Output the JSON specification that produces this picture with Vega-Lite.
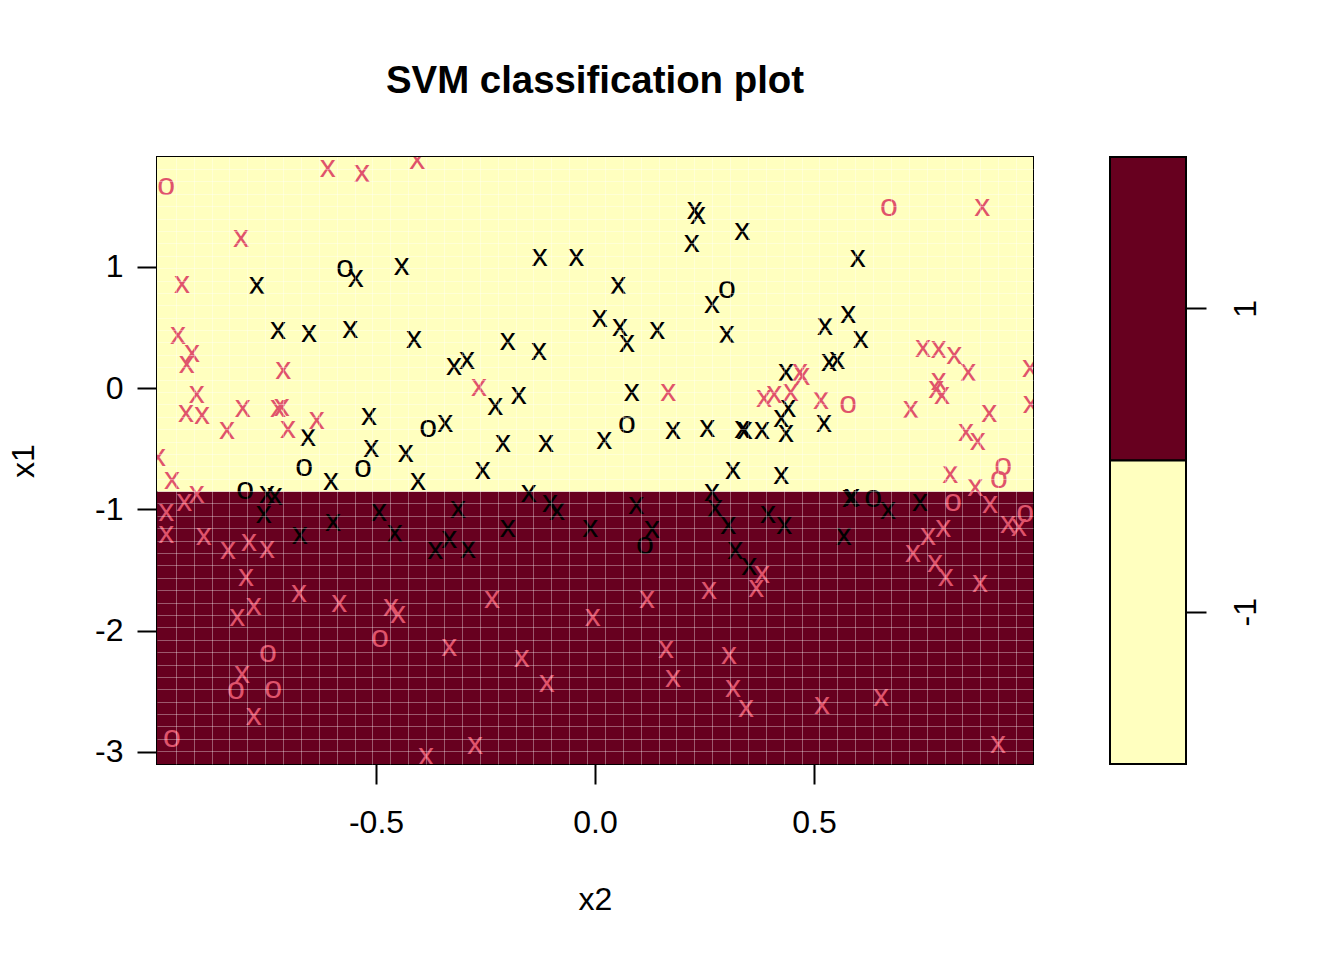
{
  "$schema": "https://vega.github.io/schema/vega-lite/v6.json",
  "background": "white",
  "padding": {"left": 6, "top": 60, "right": 40, "bottom": 20},
  "config": {
    "font": "Liberation Sans",
    "view": {"stroke": "black", "strokeWidth": 2},
    "axis": {
      "labelFont": "Liberation Sans", "labelFontSize": 32, "labelColor": "black",
      "tickColor": "black", "tickWidth": 2, "tickSize": 20, "domain": false, "grid": false,
      "titleFont": "Liberation Sans", "titleFontSize": 32, "titleFontWeight": "normal", "titleColor": "black"
    }
  },
  "datasets": {
    "regions": [
      {"cls": "1", "x2_lo": -1.0, "x2_hi": 1.0, "x1_lo": -3.099, "x1_hi": -0.851},
      {"cls": "-1", "x2_lo": -1.0, "x2_hi": 1.0, "x1_lo": -0.851, "x1_hi": 1.907}
    ],
    "points": [
      {"x2": -0.571, "x1": 1.000, "cls": "-1", "sym": "o"},
      {"x2": -0.546, "x1": 0.918, "cls": "-1", "sym": "x"},
      {"x2": -0.441, "x1": 1.016, "cls": "-1", "sym": "x"},
      {"x2": -0.772, "x1": 0.860, "cls": "-1", "sym": "x"},
      {"x2": -0.724, "x1": 0.489, "cls": "-1", "sym": "x"},
      {"x2": -0.653, "x1": 0.464, "cls": "-1", "sym": "x"},
      {"x2": -0.559, "x1": 0.497, "cls": "-1", "sym": "x"},
      {"x2": -0.413, "x1": 0.414, "cls": "-1", "sym": "x"},
      {"x2": -0.516, "x1": -0.221, "cls": "-1", "sym": "x"},
      {"x2": -0.655, "x1": -0.394, "cls": "-1", "sym": "x"},
      {"x2": -0.381, "x1": -0.320, "cls": "-1", "sym": "o"},
      {"x2": -0.342, "x1": -0.278, "cls": "-1", "sym": "x"},
      {"x2": -0.511, "x1": -0.485, "cls": "-1", "sym": "x"},
      {"x2": -0.432, "x1": -0.526, "cls": "-1", "sym": "x"},
      {"x2": 0.228, "x1": 1.478, "cls": "-1", "sym": "x"},
      {"x2": 0.235, "x1": 1.437, "cls": "-1", "sym": "x"},
      {"x2": 0.221, "x1": 1.206, "cls": "-1", "sym": "x"},
      {"x2": 0.336, "x1": 1.305, "cls": "-1", "sym": "x"},
      {"x2": -0.126, "x1": 1.091, "cls": "-1", "sym": "x"},
      {"x2": -0.043, "x1": 1.091, "cls": "-1", "sym": "x"},
      {"x2": 0.053, "x1": 0.860, "cls": "-1", "sym": "x"},
      {"x2": 0.301, "x1": 0.827, "cls": "-1", "sym": "o"},
      {"x2": 0.267, "x1": 0.703, "cls": "-1", "sym": "x"},
      {"x2": 0.011, "x1": 0.588, "cls": "-1", "sym": "x"},
      {"x2": 0.057, "x1": 0.513, "cls": "-1", "sym": "x"},
      {"x2": 0.073, "x1": 0.381, "cls": "-1", "sym": "x"},
      {"x2": 0.142, "x1": 0.489, "cls": "-1", "sym": "x"},
      {"x2": 0.301, "x1": 0.456, "cls": "-1", "sym": "x"},
      {"x2": -0.199, "x1": 0.398, "cls": "-1", "sym": "x"},
      {"x2": -0.128, "x1": 0.315, "cls": "-1", "sym": "x"},
      {"x2": -0.322, "x1": 0.192, "cls": "-1", "sym": "x"},
      {"x2": -0.292, "x1": 0.241, "cls": "-1", "sym": "x"},
      {"x2": 0.084, "x1": -0.023, "cls": "-1", "sym": "x"},
      {"x2": -0.228, "x1": -0.138, "cls": "-1", "sym": "x"},
      {"x2": -0.174, "x1": -0.047, "cls": "-1", "sym": "x"},
      {"x2": 0.073, "x1": -0.287, "cls": "-1", "sym": "o"},
      {"x2": 0.178, "x1": -0.336, "cls": "-1", "sym": "x"},
      {"x2": 0.256, "x1": -0.320, "cls": "-1", "sym": "x"},
      {"x2": 0.336, "x1": -0.328, "cls": "-1", "sym": "x"},
      {"x2": -0.210, "x1": -0.443, "cls": "-1", "sym": "x"},
      {"x2": -0.112, "x1": -0.443, "cls": "-1", "sym": "x"},
      {"x2": 0.021, "x1": -0.419, "cls": "-1", "sym": "x"},
      {"x2": 0.600, "x1": 1.082, "cls": "-1", "sym": "x"},
      {"x2": 0.578, "x1": 0.621, "cls": "-1", "sym": "x"},
      {"x2": 0.525, "x1": 0.522, "cls": "-1", "sym": "x"},
      {"x2": 0.607, "x1": 0.414, "cls": "-1", "sym": "x"},
      {"x2": 0.534, "x1": 0.225, "cls": "-1", "sym": "x"},
      {"x2": 0.553, "x1": 0.241, "cls": "-1", "sym": "x"},
      {"x2": 0.436, "x1": 0.142, "cls": "-1", "sym": "x"},
      {"x2": 0.441, "x1": -0.155, "cls": "-1", "sym": "x"},
      {"x2": 0.425, "x1": -0.237, "cls": "-1", "sym": "x"},
      {"x2": 0.436, "x1": -0.361, "cls": "-1", "sym": "x"},
      {"x2": 0.342, "x1": -0.336, "cls": "-1", "sym": "x"},
      {"x2": 0.381, "x1": -0.336, "cls": "-1", "sym": "x"},
      {"x2": 0.523, "x1": -0.278, "cls": "-1", "sym": "x"},
      {"x2": -0.664, "x1": -0.641, "cls": "-1", "sym": "o"},
      {"x2": -0.530, "x1": -0.649, "cls": "-1", "sym": "o"},
      {"x2": -0.603, "x1": -0.757, "cls": "-1", "sym": "x"},
      {"x2": -0.404, "x1": -0.757, "cls": "-1", "sym": "x"},
      {"x2": -0.799, "x1": -0.831, "cls": "-1", "sym": "o"},
      {"x2": -0.749, "x1": -0.864, "cls": "-1", "sym": "x"},
      {"x2": -0.731, "x1": -0.880, "cls": "-1", "sym": "x"},
      {"x2": -0.756, "x1": -1.029, "cls": "-1", "sym": "x"},
      {"x2": -0.674, "x1": -1.202, "cls": "-1", "sym": "x"},
      {"x2": -0.598, "x1": -1.095, "cls": "-1", "sym": "x"},
      {"x2": -0.493, "x1": -1.012, "cls": "-1", "sym": "x"},
      {"x2": -0.457, "x1": -1.186, "cls": "-1", "sym": "x"},
      {"x2": -0.365, "x1": -1.326, "cls": "-1", "sym": "x"},
      {"x2": -0.333, "x1": -1.235, "cls": "-1", "sym": "x"},
      {"x2": -0.256, "x1": -0.666, "cls": "-1", "sym": "x"},
      {"x2": 0.315, "x1": -0.666, "cls": "-1", "sym": "x"},
      {"x2": -0.151, "x1": -0.856, "cls": "-1", "sym": "x"},
      {"x2": -0.103, "x1": -0.938, "cls": "-1", "sym": "x"},
      {"x2": -0.087, "x1": -1.004, "cls": "-1", "sym": "x"},
      {"x2": -0.313, "x1": -0.988, "cls": "-1", "sym": "x"},
      {"x2": -0.199, "x1": -1.144, "cls": "-1", "sym": "x"},
      {"x2": -0.290, "x1": -1.318, "cls": "-1", "sym": "x"},
      {"x2": -0.011, "x1": -1.144, "cls": "-1", "sym": "x"},
      {"x2": 0.094, "x1": -0.955, "cls": "-1", "sym": "x"},
      {"x2": 0.130, "x1": -1.153, "cls": "-1", "sym": "x"},
      {"x2": 0.114, "x1": -1.285, "cls": "-1", "sym": "o"},
      {"x2": 0.267, "x1": -0.847, "cls": "-1", "sym": "x"},
      {"x2": 0.274, "x1": -0.979, "cls": "-1", "sym": "x"},
      {"x2": 0.304, "x1": -1.120, "cls": "-1", "sym": "x"},
      {"x2": 0.320, "x1": -1.326, "cls": "-1", "sym": "x"},
      {"x2": 0.352, "x1": -1.458, "cls": "-1", "sym": "x"},
      {"x2": 0.425, "x1": -0.707, "cls": "-1", "sym": "x"},
      {"x2": 0.582, "x1": -0.897, "cls": "-1", "sym": "x"},
      {"x2": 0.587, "x1": -0.889, "cls": "-1", "sym": "x"},
      {"x2": 0.635, "x1": -0.897, "cls": "-1", "sym": "o"},
      {"x2": 0.669, "x1": -0.996, "cls": "-1", "sym": "x"},
      {"x2": 0.742, "x1": -0.930, "cls": "-1", "sym": "x"},
      {"x2": 0.395, "x1": -1.029, "cls": "-1", "sym": "x"},
      {"x2": 0.432, "x1": -1.120, "cls": "-1", "sym": "x"},
      {"x2": 0.568, "x1": -1.210, "cls": "-1", "sym": "x"},
      {"x2": -0.979, "x1": 1.676, "cls": "1", "sym": "o"},
      {"x2": -0.610, "x1": 1.825, "cls": "1", "sym": "x"},
      {"x2": -0.532, "x1": 1.784, "cls": "1", "sym": "x"},
      {"x2": -0.406, "x1": 1.891, "cls": "1", "sym": "x"},
      {"x2": -0.808, "x1": 1.247, "cls": "1", "sym": "x"},
      {"x2": -0.943, "x1": 0.868, "cls": "1", "sym": "x"},
      {"x2": -0.952, "x1": 0.447, "cls": "1", "sym": "x"},
      {"x2": -0.920, "x1": 0.299, "cls": "1", "sym": "x"},
      {"x2": -0.932, "x1": 0.208, "cls": "1", "sym": "x"},
      {"x2": -0.712, "x1": 0.159, "cls": "1", "sym": "x"},
      {"x2": -0.909, "x1": -0.039, "cls": "1", "sym": "x"},
      {"x2": -0.934, "x1": -0.196, "cls": "1", "sym": "x"},
      {"x2": -0.897, "x1": -0.212, "cls": "1", "sym": "x"},
      {"x2": -0.804, "x1": -0.155, "cls": "1", "sym": "x"},
      {"x2": -0.724, "x1": -0.155, "cls": "1", "sym": "x"},
      {"x2": -0.715, "x1": -0.146, "cls": "1", "sym": "x"},
      {"x2": -0.840, "x1": -0.336, "cls": "1", "sym": "x"},
      {"x2": -0.701, "x1": -0.328, "cls": "1", "sym": "x"},
      {"x2": -0.635, "x1": -0.254, "cls": "1", "sym": "x"},
      {"x2": -0.265, "x1": 0.019, "cls": "1", "sym": "x"},
      {"x2": 0.167, "x1": -0.023, "cls": "1", "sym": "x"},
      {"x2": 0.671, "x1": 1.503, "cls": "1", "sym": "o"},
      {"x2": 0.884, "x1": 1.503, "cls": "1", "sym": "x"},
      {"x2": 0.749, "x1": 0.340, "cls": "1", "sym": "x"},
      {"x2": 0.785, "x1": 0.332, "cls": "1", "sym": "x"},
      {"x2": 0.820, "x1": 0.282, "cls": "1", "sym": "x"},
      {"x2": 0.852, "x1": 0.142, "cls": "1", "sym": "x"},
      {"x2": 0.993, "x1": 0.175, "cls": "1", "sym": "x"},
      {"x2": 0.468, "x1": 0.142, "cls": "1", "sym": "x"},
      {"x2": 0.473, "x1": 0.109, "cls": "1", "sym": "x"},
      {"x2": 0.386, "x1": -0.072, "cls": "1", "sym": "x"},
      {"x2": 0.409, "x1": -0.039, "cls": "1", "sym": "x"},
      {"x2": 0.447, "x1": -0.023, "cls": "1", "sym": "x"},
      {"x2": 0.516, "x1": -0.089, "cls": "1", "sym": "x"},
      {"x2": 0.578, "x1": -0.122, "cls": "1", "sym": "o"},
      {"x2": 0.785, "x1": 0.068, "cls": "1", "sym": "x"},
      {"x2": 0.779, "x1": 0.002, "cls": "1", "sym": "x"},
      {"x2": 0.792, "x1": -0.047, "cls": "1", "sym": "x"},
      {"x2": 0.721, "x1": -0.163, "cls": "1", "sym": "x"},
      {"x2": 0.900, "x1": -0.196, "cls": "1", "sym": "x"},
      {"x2": 0.995, "x1": -0.122, "cls": "1", "sym": "x"},
      {"x2": 0.847, "x1": -0.353, "cls": "1", "sym": "x"},
      {"x2": 0.874, "x1": -0.427, "cls": "1", "sym": "x"},
      {"x2": -0.998, "x1": -0.559, "cls": "1", "sym": "x"},
      {"x2": -0.966, "x1": -0.748, "cls": "1", "sym": "x"},
      {"x2": -0.909, "x1": -0.864, "cls": "1", "sym": "x"},
      {"x2": -0.938, "x1": -0.930, "cls": "1", "sym": "x"},
      {"x2": -0.979, "x1": -1.012, "cls": "1", "sym": "x"},
      {"x2": -0.979, "x1": -1.194, "cls": "1", "sym": "x"},
      {"x2": -0.893, "x1": -1.210, "cls": "1", "sym": "x"},
      {"x2": -0.838, "x1": -1.326, "cls": "1", "sym": "x"},
      {"x2": -0.790, "x1": -1.260, "cls": "1", "sym": "x"},
      {"x2": -0.749, "x1": -1.318, "cls": "1", "sym": "x"},
      {"x2": -0.797, "x1": -1.548, "cls": "1", "sym": "x"},
      {"x2": -0.676, "x1": -1.680, "cls": "1", "sym": "x"},
      {"x2": -0.584, "x1": -1.763, "cls": "1", "sym": "x"},
      {"x2": -0.466, "x1": -1.796, "cls": "1", "sym": "x"},
      {"x2": -0.450, "x1": -1.854, "cls": "1", "sym": "x"},
      {"x2": -0.779, "x1": -1.788, "cls": "1", "sym": "x"},
      {"x2": -0.817, "x1": -1.878, "cls": "1", "sym": "x"},
      {"x2": -0.491, "x1": -2.052, "cls": "1", "sym": "o"},
      {"x2": -0.333, "x1": -2.126, "cls": "1", "sym": "x"},
      {"x2": -0.747, "x1": -2.175, "cls": "1", "sym": "o"},
      {"x2": -0.806, "x1": -2.348, "cls": "1", "sym": "x"},
      {"x2": -0.820, "x1": -2.480, "cls": "1", "sym": "o"},
      {"x2": -0.735, "x1": -2.472, "cls": "1", "sym": "o"},
      {"x2": -0.779, "x1": -2.695, "cls": "1", "sym": "x"},
      {"x2": -0.966, "x1": -2.876, "cls": "1", "sym": "o"},
      {"x2": -0.386, "x1": -3.025, "cls": "1", "sym": "x"},
      {"x2": -0.235, "x1": -1.730, "cls": "1", "sym": "x"},
      {"x2": -0.005, "x1": -1.878, "cls": "1", "sym": "x"},
      {"x2": 0.119, "x1": -1.730, "cls": "1", "sym": "x"},
      {"x2": 0.260, "x1": -1.656, "cls": "1", "sym": "x"},
      {"x2": -0.167, "x1": -2.216, "cls": "1", "sym": "x"},
      {"x2": -0.110, "x1": -2.423, "cls": "1", "sym": "x"},
      {"x2": 0.162, "x1": -2.142, "cls": "1", "sym": "x"},
      {"x2": 0.178, "x1": -2.381, "cls": "1", "sym": "x"},
      {"x2": 0.306, "x1": -2.192, "cls": "1", "sym": "x"},
      {"x2": 0.315, "x1": -2.464, "cls": "1", "sym": "x"},
      {"x2": 0.345, "x1": -2.629, "cls": "1", "sym": "x"},
      {"x2": -0.274, "x1": -2.934, "cls": "1", "sym": "x"},
      {"x2": 0.811, "x1": -0.699, "cls": "1", "sym": "x"},
      {"x2": 0.932, "x1": -0.633, "cls": "1", "sym": "o"},
      {"x2": 0.922, "x1": -0.740, "cls": "1", "sym": "o"},
      {"x2": 0.868, "x1": -0.806, "cls": "1", "sym": "x"},
      {"x2": 0.817, "x1": -0.930, "cls": "1", "sym": "o"},
      {"x2": 0.902, "x1": -0.946, "cls": "1", "sym": "x"},
      {"x2": 0.795, "x1": -1.144, "cls": "1", "sym": "x"},
      {"x2": 0.760, "x1": -1.210, "cls": "1", "sym": "x"},
      {"x2": 0.726, "x1": -1.351, "cls": "1", "sym": "x"},
      {"x2": 0.776, "x1": -1.433, "cls": "1", "sym": "x"},
      {"x2": 0.801, "x1": -1.548, "cls": "1", "sym": "x"},
      {"x2": 0.879, "x1": -1.598, "cls": "1", "sym": "x"},
      {"x2": 0.943, "x1": -1.111, "cls": "1", "sym": "x"},
      {"x2": 0.968, "x1": -1.136, "cls": "1", "sym": "x"},
      {"x2": 0.982, "x1": -1.021, "cls": "1", "sym": "o"},
      {"x2": 0.381, "x1": -1.524, "cls": "1", "sym": "x"},
      {"x2": 0.368, "x1": -1.639, "cls": "1", "sym": "x"},
      {"x2": 0.518, "x1": -2.604, "cls": "1", "sym": "x"},
      {"x2": 0.653, "x1": -2.538, "cls": "1", "sym": "x"},
      {"x2": 0.920, "x1": -2.926, "cls": "1", "sym": "x"},
      {"x2": 0.541, "x1": -3.165, "cls": "1", "sym": "o"}
    ]
  },
  "hconcat": [
    {
      "width": 876,
      "height": 607,
      "title": {"text": "SVM classification plot", "font": "Liberation Sans", "fontSize": 38.4, "fontWeight": "bold", "color": "black", "anchor": "middle", "frame": "group", "baseline": "alphabetic", "offset": 26},
      "resolve": {"axis": {"x": "independent", "y": "independent"}},
      "layer": [
        {
          "data": {"name": "regions"},
          "mark": {"type": "rect"},
          "encoding": {
            "x": {"field": "x2_lo", "type": "quantitative", "scale": {"domain": [-1.0, 1.0], "nice": false, "zero": false},
                  "axis": {"orient": "bottom", "values": [-0.5, 0, 0.5], "labelExpr": "datum.value == 0 ? '0.0' : toString(datum.value)", "labelPadding": 23, "title": "x2", "titleX": 438, "titleY": 145, "titleBaseline": "alphabetic", "titleAlign": "center"}},
            "x2": {"field": "x2_hi"},
            "y": {"field": "x1_lo", "type": "quantitative", "scale": {"domain": [-3.099, 1.907], "nice": false, "zero": false},
                  "axis": {"orient": "left", "values": [-3, -2, -1, 0, 1], "labelExpr": "toString(datum.value)", "labelPadding": 14, "title": "x1", "titleX": -124, "titleY": 303.5, "titleAngle": 270, "titleBaseline": "alphabetic", "titleAlign": "center"}},
            "y2": {"field": "x1_hi"},
            "fill": {"field": "cls", "type": "nominal", "scale": {"domain": ["1", "-1"], "range": ["#67001F", "#FFFFBF"]}, "legend": null}
          }
        },
        {
          "data": {"name": "points"},
          "mark": {"type": "text", "font": "Liberation Sans", "fontSize": 32, "baseline": "middle", "align": "center", "clip": true},
          "encoding": {
            "x": {"field": "x2", "type": "quantitative",
                  "axis": {"orient": "top", "grid": true, "gridColor": "#ffffff", "gridOpacity": 0.35, "gridWidth": 1, "labels": false, "ticks": false, "domain": false, "title": null, "zindex": 1,
                           "values": [-0.9570, -0.9162, -0.8754, -0.8346, -0.7937, -0.7529, -0.7121, -0.6713, -0.6305, -0.5897, -0.5488, -0.5080, -0.4672, -0.4264, -0.3856, -0.3448, -0.3039, -0.2631, -0.2223, -0.1815, -0.1407, -0.0999, -0.0590, -0.0182, 0.0226, 0.0634, 0.1042, 0.1450, 0.1859, 0.2267, 0.2675, 0.3083, 0.3491, 0.3899, 0.4308, 0.4716, 0.5124, 0.5532, 0.5940, 0.6348, 0.6757, 0.7165, 0.7573, 0.7981, 0.8389, 0.8797, 0.9206, 0.9614]}},
            "y": {"field": "x1", "type": "quantitative",
                  "axis": {"orient": "right", "grid": true, "gridColor": "#ffffff", "gridOpacity": 0.35, "gridWidth": 1, "labels": false, "ticks": false, "domain": false, "title": null, "zindex": 1,
                           "values": [-2.9937, -2.8916, -2.7894, -2.6872, -2.5851, -2.4829, -2.3807, -2.2786, -2.1764, -2.0743, -1.9721, -1.8699, -1.7678, -1.6656, -1.5634, -1.4613, -1.3591, -1.2570, -1.1548, -1.0527, -0.9505, -0.8483, -0.7462, -0.6440, -0.5419, -0.4397, -0.3375, -0.2354, -0.1332, -0.0311, 0.0711, 0.1733, 0.2754, 0.3776, 0.4797, 0.5819, 0.6841, 0.7862, 0.8884, 0.9905, 1.0927, 1.1949, 1.2970, 1.3992, 1.5013, 1.6035, 1.7057, 1.8078]}},
            "text": {"field": "sym", "type": "nominal"},
            "color": {"field": "cls", "type": "nominal", "scale": {"domain": ["-1", "1"], "range": ["#000000", "#DF536B"]}, "legend": null}
          }
        }
      ]
    },
    {
      "width": 76,
      "height": 607,
      "data": {"values": [
        {"cls": "1", "a": 0, "b": 1},
        {"cls": "-1", "a": 0, "b": 1}
      ]},
      "mark": {"type": "rect", "stroke": "black", "strokeWidth": 2},
      "encoding": {
        "x": {"field": "a", "type": "quantitative", "scale": {"domain": [0, 1], "nice": false}, "axis": null},
        "x2": {"field": "b"},
        "y": {"field": "cls", "type": "nominal", "sort": ["1", "-1"], "scale": {"paddingInner": 0, "paddingOuter": 0},
              "axis": {"orient": "right", "title": null, "labelAngle": 270, "labelAlign": "center", "labelBaseline": "top", "labelPadding": 24, "tickSize": 20}},
        "fill": {"field": "cls", "type": "nominal", "scale": {"domain": ["1", "-1"], "range": ["#67001F", "#FFFFBF"]}, "legend": null}
      }
    }
  ],
  "spacing": 74
}
